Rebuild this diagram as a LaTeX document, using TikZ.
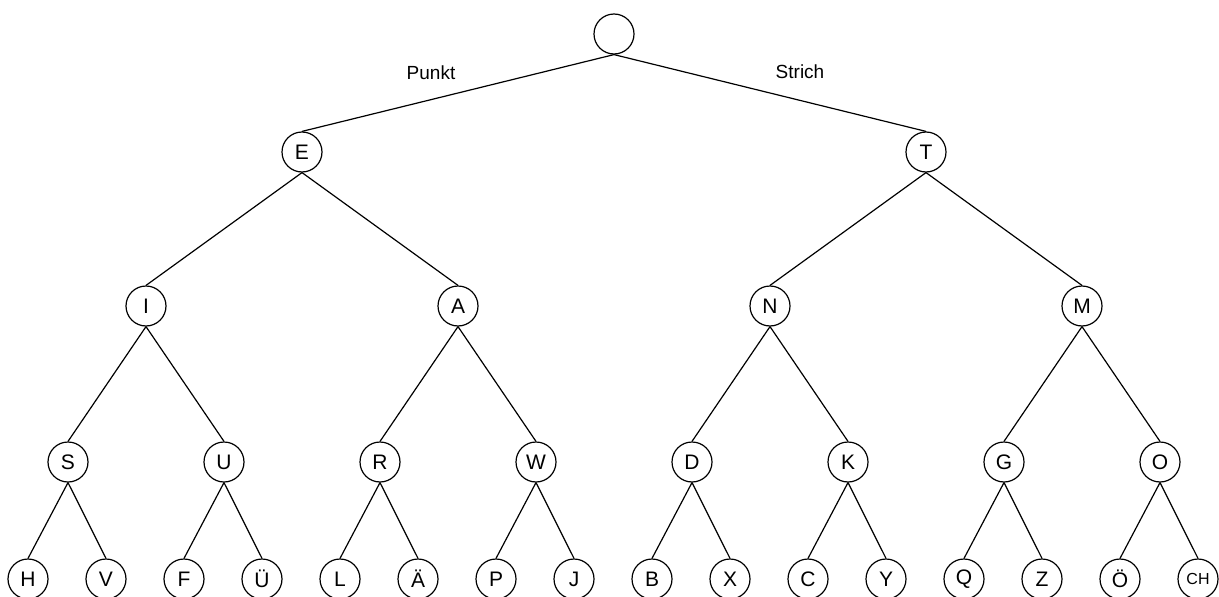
\documentclass[tikz,border=0pt]{standalone}
\usepackage{fontspec}
\setmainfont{Liberation Sans}
\begin{document}
\begin{tikzpicture}[x=1pt,y=-1pt,
  knot/.style={circle,draw,line width=1.2pt,minimum size=40pt,inner sep=0pt,font=\fontsize{21}{21}\selectfont},
  edge/.style={line width=1.2pt},
  lbl/.style={font=\fontsize{19}{19}\selectfont}]
\useasboundingbox (0,0) rectangle (1219,597);
\clip (0,0) rectangle (1219,597);
% root
\node[knot] (r) at (614,34) {};
% level 1
\node[knot] (E) at (302,152) {E};
\node[knot] (T) at (926,152) {T};
% level 2
\node[knot] (I) at (146,306) {I};
\node[knot] (A) at (458,306) {A};
\node[knot] (N) at (770,306) {N};
\node[knot] (M) at (1082,306) {M};
% level 3
\node[knot] (S) at (68,462) {S};
\node[knot] (U) at (224,462) {U};
\node[knot] (R) at (380,462) {R};
\node[knot] (W) at (536,462) {W};
\node[knot] (D) at (692,462) {D};
\node[knot] (K) at (848,462) {K};
\node[knot] (G) at (1004,462) {G};
\node[knot] (O) at (1160,462) {O};
% level 4
\node[knot] (H) at (28,579) {H};
\node[knot] (V) at (106,579) {V};
\node[knot] (F) at (184,579) {F};
\node[knot] (Ue) at (262,579) {Ü};
\node[knot] (L) at (340,579) {L};
\node[knot] (Ae) at (418,579) {Ä};
\node[knot] (P) at (496,579) {P};
\node[knot] (J) at (574,579) {J};
\node[knot] (B) at (652,579) {B};
\node[knot] (X) at (730,579) {X};
\node[knot] (C) at (808,579) {C};
\node[knot] (Y) at (886,579) {Y};
\node[knot] (Q) at (964,579) {Q};
\node[knot] (Z) at (1042,579) {Z};
\node[knot] (Oe) at (1120,579) {Ö};
\node[knot,font=\fontsize{16}{16}\selectfont] (CH) at (1198,579) {CH};
% edges
\foreach \p/\c in {r/E,r/T,E/I,E/A,T/N,T/M,I/S,I/U,A/R,A/W,N/D,N/K,M/G,M/O,
  S/H,S/V,U/F,U/Ue,R/L,R/Ae,W/P,W/J,D/B,D/X,K/C,K/Y,G/Q,G/Z,O/Oe,O/CH}
  \draw[edge] (\p.south) -- (\c.north);
% labels
\node[lbl] (punkt) at (431,73) {Punkt};
\node[lbl] (strich) at (800,72) {Strich};
\end{tikzpicture}
\end{document}
